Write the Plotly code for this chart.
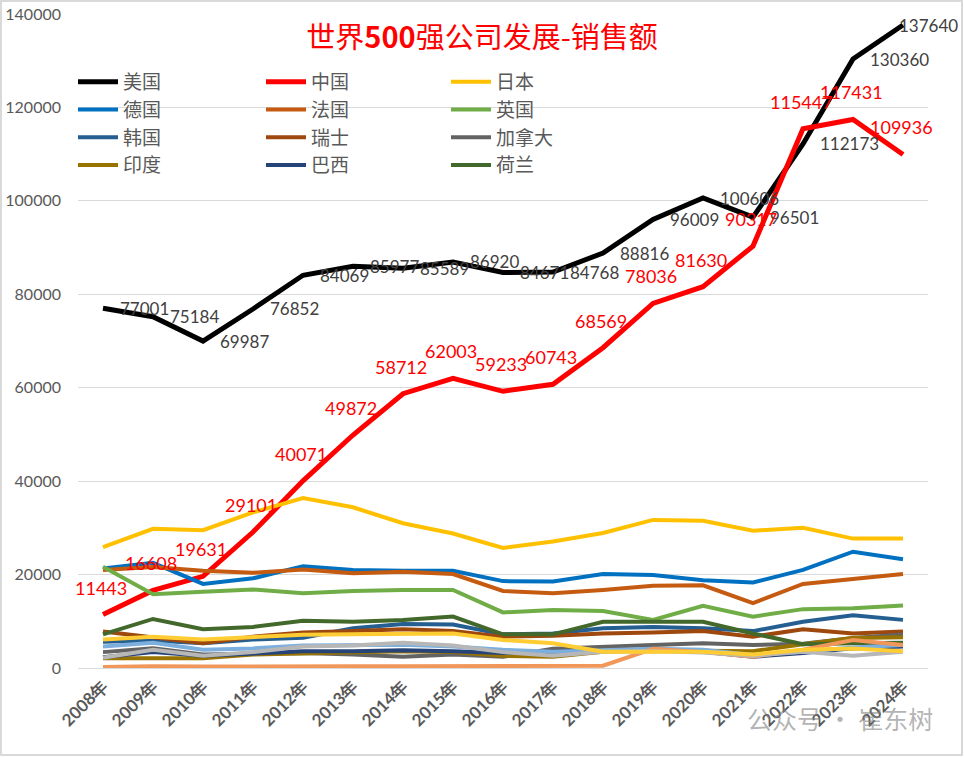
import plotly.graph_objects as go

years = ["2008年", "2009年", "2010年", "2011年", "2012年", "2013年", "2014年", "2015年", "2016年",
         "2017年", "2018年", "2019年", "2020年", "2021年", "2022年", "2023年", "2024年"]

usa = [77001, 75184, 69987, 76852, 84069, 85977, 85589, 86920, 84671, 84768, 88816, 96009, 100606, 96501, 112173, 130360, 137640]
china = [11443, 16608, 19631, 29101, 40071, 49872, 58712, 62003, 59233, 60743, 68569, 78036, 81630, 90317, 115447, 117431, 109936]
japan = [25900, 29800, 29500, 33300, 36400, 34400, 31000, 28800, 25700, 27100, 28900, 31700, 31500, 29400, 30000, 27700, 27700]
germany = [21300, 22500, 18000, 19200, 21800, 21000, 20800, 20800, 18600, 18500, 20100, 19900, 18800, 18300, 21000, 24900, 23300]
france = [21000, 21600, 20800, 20400, 21100, 20300, 20600, 20100, 16500, 16000, 16700, 17600, 17700, 13900, 18000, 19000, 20100]
uk = [21700, 15800, 16300, 16800, 16000, 16500, 16700, 16700, 11900, 12400, 12200, 10300, 13300, 11000, 12600, 12800, 13400]
korea = [5600, 5900, 5300, 6100, 6500, 8500, 9400, 9300, 7200, 7400, 8500, 8800, 8500, 7900, 9900, 11300, 10300]
switzerland = [7800, 6500, 5300, 6700, 7600, 7900, 8300, 7900, 6700, 6900, 7400, 7600, 7900, 6700, 8300, 7400, 7800]
canada = [3400, 4200, 2900, 3100, 3200, 2900, 2400, 2900, 2400, 4100, 4600, 4900, 5300, 4900, 5200, 6400, 7200]
india = [2100, 2200, 2100, 2900, 3200, 3400, 3600, 3400, 2600, 2400, 3500, 3800, 3600, 3600, 5100, 6400, 6600]
brazil = [2300, 3400, 2600, 3000, 3600, 3600, 3800, 3600, 3200, 3500, 3600, 3800, 3500, 2400, 3200, 4200, 4600]
netherlands = [7200, 10500, 8300, 8800, 10100, 9900, 10300, 11000, 7200, 7200, 9900, 9900, 9900, 7400, 5100, 5300, 5400]
series13 = [4600, 5400, 3900, 4200, 4800, 4900, 5000, 4600, 3900, 3500, 3900, 4100, 3900, 2800, 3500, 4400, 4900]
series14 = [200, 400, 300, 400, 400, 400, 400, 400, 300, 300, 500, 4100, 3400, 2400, 3900, 6000, 4900]
series15 = [2200, 3900, 2600, 3400, 4600, 4800, 5400, 4800, 3400, 2600, 3500, 3600, 3300, 2600, 3500, 2600, 3500]
series16 = [6100, 6700, 6100, 6700, 7100, 7200, 7400, 7400, 6000, 5300, 3500, 3500, 3500, 2900, 3900, 4200, 3600]

# name, values, color, width, legend column (None = not in legend)
series = [
    ("美国", usa, "#000000", 5, "legend"),
    ("中国", china, "#FF0000", 5, "legend2"),
    ("日本", japan, "#FFC000", 4, "legend3"),
    ("德国", germany, "#0070C0", 4, "legend"),
    ("法国", france, "#C55A11", 4, "legend2"),
    ("英国", uk, "#70AD47", 4, "legend3"),
    ("韩国", korea, "#255E91", 4, "legend"),
    ("瑞士", switzerland, "#9E480E", 4, "legend2"),
    ("加拿大", canada, "#636363", 4, "legend3"),
    ("印度", india, "#997300", 4, "legend"),
    ("巴西", brazil, "#264478", 4, "legend2"),
    ("荷兰", netherlands, "#43682B", 4, "legend3"),
    ("系列13", series13, "#7CAFDD", 4, None),
    ("系列14", series14, "#F1975A", 4, None),
    ("系列15", series15, "#B7B7B7", 4, None),
    ("系列16", series16, "#FFCD33", 4, None),
]

fig = go.Figure()
for name, vals, color, width, leg in series:
    kw = dict(x=years, y=vals, name=name, mode="lines",
              line=dict(color=color, width=width))
    if leg is None:
        kw["showlegend"] = False
    else:
        kw["legend"] = leg
    fig.add_trace(go.Scatter(**kw))

W, H = 964, 757
ml, mr, mt, mb = 78, 36, 14, 89
pw, ph = W - ml - mr, H - mt - mb

def px_x(p):
    return (p - ml) / pw

def px_y(p):
    return (H - mb - p) / ph

annotations = []
for i, (yr, v) in enumerate(zip(years, usa)):
    last = i == len(years) - 1
    annotations.append(dict(x=yr, y=v, xref="x", yref="y", text=str(v), showarrow=False,
                            xanchor="left", yanchor="middle", xshift=-6 if last else 15,
                            font=dict(family="Lato", size=17, color="#404040")))
for yr, v in zip(years, china):
    annotations.append(dict(x=yr, y=v, xref="x", yref="y", text=str(v), showarrow=False,
                            xanchor="center", yanchor="middle", xshift=-2, yshift=27,
                            font=dict(family="Lato", size=18, color="#FF0000")))
annotations.append(dict(x=px_x(840), y=px_y(718), xref="paper", yref="paper", text="公众号 · 崔东树",
                        showarrow=False, xanchor="center", yanchor="middle",
                        font=dict(family="Noto Sans CJK SC", size=25, color="rgba(130,130,130,0.6)")))

leg_common = dict(bgcolor="rgba(0,0,0,0)", font=dict(family="Noto Sans CJK SC", size=19, color="#595959"),
                  xanchor="left", yanchor="top", itemwidth=40, tracegroupgap=0)

fig.update_layout(
    width=W, height=H,
    margin=dict(l=ml, r=mr, t=mt, b=mb, autoexpand=False),
    paper_bgcolor="white", plot_bgcolor="white",
    title=dict(text="世界<b>500</b>强公司发展-销售额", x=0.5, xref="container", xanchor="center",
               y=1 - 38 / H, yref="container", yanchor="middle",
               font=dict(family="Noto Sans CJK SC", size=29, color="#FF0000")),
    xaxis=dict(type="category", range=[-0.5, 16.5], tickangle=-45, showgrid=False,
               showline=False, ticks="", ticklabelstandoff=4, automargin=False,
               tickfont=dict(family="Lato", size=17, color="#595959", weight="bold")),
    yaxis=dict(range=[0, 140000], dtick=20000, showgrid=True, gridcolor="#D9D9D9", gridwidth=1,
               zeroline=True, zerolinecolor="#D9D9D9", zerolinewidth=1, showline=False,
               tickformat="d", ticklabelstandoff=16, automargin=False,
               tickfont=dict(family="Lato", size=16, color="#595959")),
    legend=dict(x=px_x(73), y=px_y(63), **leg_common),
    legend2=dict(x=px_x(261), y=px_y(63), **leg_common),
    legend3=dict(x=px_x(446), y=px_y(63), **leg_common),
    annotations=annotations,
    shapes=[dict(type="rect", xref="paper", yref="paper",
                 x0=px_x(1), x1=px_x(962), y0=px_y(755), y1=px_y(1),
                 line=dict(color="#D9D9D9", width=2), fillcolor="rgba(0,0,0,0)", layer="below")],
    showlegend=True,
)

fig.write_html("out.html", config={"displayModeBar": False},
               post_script="document.body.style.margin='0';document.body.style.overflow='hidden';")
